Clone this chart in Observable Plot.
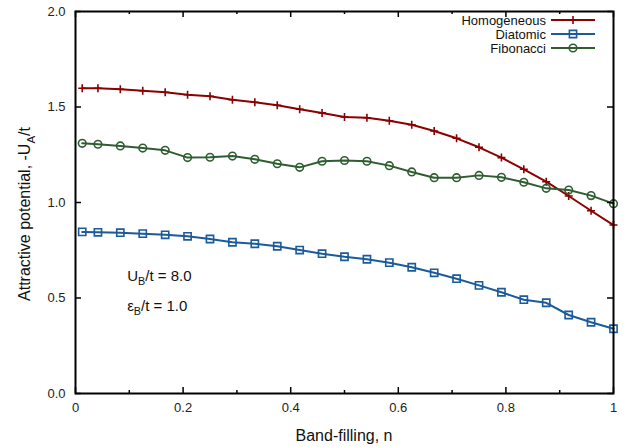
<!DOCTYPE html>
<html><head><meta charset="utf-8">
<script src="https://cdn.jsdelivr.net/npm/d3@7"></script>
<script src="https://cdn.jsdelivr.net/npm/@observablehq/plot@0.6"></script>
<style>
body{margin:0;background:#fff}
#chart svg{font-family:"Liberation Sans",Arial,sans-serif;background:#fff}
</style>
</head><body><div id="chart"></div>
<script>
// ---- data ----
const filling = [0.0125, 0.0417, 0.0833, 0.125, 0.1667, 0.2083, 0.25, 0.2917, 0.3333, 0.375, 0.4167, 0.4583, 0.5,
  0.5417, 0.5833, 0.625, 0.6667, 0.7083, 0.75, 0.7917, 0.8333, 0.875, 0.9167, 0.9583, 1.0];
const homogeneous = [1.598, 1.598, 1.593, 1.585, 1.577, 1.564, 1.556, 1.538, 1.525, 1.509, 1.488, 1.469, 1.448,
  1.444, 1.428, 1.407, 1.374, 1.336, 1.289, 1.235, 1.174, 1.109, 1.034, 0.957, 0.882];
const diatomic = [0.846, 0.844, 0.842, 0.837, 0.831, 0.823, 0.809, 0.792, 0.784, 0.771, 0.751, 0.732, 0.716,
  0.703, 0.685, 0.661, 0.632, 0.601, 0.566, 0.530, 0.491, 0.475, 0.411, 0.373, 0.339];
const fibonacci = [1.310, 1.305, 1.296, 1.285, 1.273, 1.235, 1.237, 1.243, 1.226, 1.203, 1.184, 1.216, 1.220,
  1.216, 1.193, 1.160, 1.130, 1.130, 1.142, 1.132, 1.106, 1.074, 1.065, 1.036, 0.994];
const seriesNames = ["Homogeneous", "Diatomic", "Fibonacci"];
const seriesColors = ["#8b0000", "#1b5a9b", "#2f5d31"];
const xMajorTicks = [0, 0.2, 0.4, 0.6, 0.8, 1];
const xMinorTicks = [0.1, 0.3, 0.5, 0.7, 0.9];
const xTickLabels = ["0", "0.2", "0.4", "0.6", "0.8", "1"];
const yTicks = [0, 0.5, 1, 1.5, 2];
const yTickLabels = ["0.0", "0.5", "1.0", "1.5", "2.0"];
const annotations = [
  {n: 0.097, v: 0.615, parts: [["U"], ["B", true], ["/t = 8.0"]]},
  {n: 0.097, v: 0.458, parts: [["ε"], ["B", true], ["/t = 1.0"]]}
];

// ---- build table ----
const valuesBySeries = [homogeneous, diatomic, fibonacci];
const rows = [];
seriesNames.forEach((s, i) => filling.forEach((n, j) => rows.push({series: s, n, v: valuesBySeries[i][j]})));

const W = 627, H = 447, mL = 75, mR = 14, mT = 11, mB = 54;
const pw = W - mL - mR, ph = H - mT - mB;

const plusSym = {draw(ctx, size) { const r = Math.sqrt(size / Math.PI); ctx.moveTo(-r, 0); ctx.lineTo(r, 0); ctx.moveTo(0, -r); ctx.lineTo(0, r); }};
const squareSym = {draw(ctx, size) { const r = Math.sqrt(size / Math.PI); ctx.rect(-r, -r, 2 * r, 2 * r); }};
const circleSym = {draw(ctx, size) { const r = Math.sqrt(size / Math.PI); ctx.moveTo(r, 0); ctx.arc(0, 0, r, 0, 2 * Math.PI); }};
const syms = [plusSym, squareSym, circleSym];
const symR = [4, 3.6, 3.8];

const marks = [];
seriesNames.forEach((s, i) => {
  const d = rows.filter(r => r.series === s);
  marks.push(Plot.line(d, {x: "n", y: "v", stroke: seriesColors[i], strokeWidth: 2}));
  marks.push(Plot.dot(d, {x: "n", y: "v", stroke: seriesColors[i], fill: "none", strokeWidth: 1.6, symbol: () => syms[i], r: symR[i]}));
});

const plot = Plot.plot({
  width: W, height: H,
  marginLeft: mL, marginRight: mR, marginTop: mT, marginBottom: mB,
  style: {fontFamily: '"Liberation Sans", Arial, sans-serif', background: "#fff"},
  x: {domain: [0, 1]},
  y: {domain: [0, 2]},
  symbol: {type: "identity"},
  marks: [
    Plot.axisX(xMajorTicks, {tickSize: 0, tickPadding: 9, fontSize: 13, fill: "#222", label: null,
      tickFormat: (d, i) => xTickLabels[i]}),
    Plot.axisY(yTicks, {tickSize: 0, tickPadding: 10, fontSize: 13, fill: "#222", label: null,
      tickFormat: (d, i) => yTickLabels[i]}),
    ...marks,
    // inward ticks
    Plot.ruleY(yTicks, {y: d => d, insetRight: pw - 6, stroke: "black", strokeWidth: 1.5}),
    Plot.ruleY(yTicks, {y: d => d, insetLeft: pw - 6, stroke: "black", strokeWidth: 1.5}),
    Plot.ruleX(xMajorTicks, {x: d => d, insetTop: ph - 6, stroke: "black", strokeWidth: 1.5}),
    Plot.ruleX(xMajorTicks, {x: d => d, insetBottom: ph - 6, stroke: "black", strokeWidth: 1.5}),
    Plot.ruleX(xMinorTicks, {x: d => d, insetTop: ph - 3, stroke: "black", strokeWidth: 1.5}),
    Plot.ruleX(xMinorTicks, {x: d => d, insetBottom: ph - 3, stroke: "black", strokeWidth: 1.5}),
    Plot.frame({stroke: "black", strokeWidth: 2})
  ]
});
document.getElementById("chart").appendChild(plot);

const svg = d3.select(plot);
const xs = d3.scaleLinear([0, 1], [mL, W - mR]);
const ys = d3.scaleLinear([0, 2], [H - mB, mT]);

function richText(g, x, y, parts, size, attrs = {}) {
  const t = g.append("text").attr("x", x).attr("y", y).attr("font-size", size).attr("fill", "#111").attr("text-anchor", "start");
  Object.entries(attrs).forEach(([k, v]) => t.attr(k, v));
  let shifted = false;
  parts.forEach(([txt, sub]) => {
    const ts = t.append("tspan").text(txt);
    if (sub && !shifted) { ts.attr("dy", size * 0.3).attr("font-size", size * 0.72); shifted = true; }
    else if (!sub && shifted) { ts.attr("dy", -size * 0.3); shifted = false; }
  });
  return t;
}

const overlay = svg.append("g");
// axis titles
richText(overlay, mL + pw / 2, 441, [["Band-filling, n"]], 16, {"text-anchor": "middle"});
richText(overlay, 0, 0, [["Attractive potential, -U"], ["A", true], ["/t"]], 16,
  {"text-anchor": "middle", transform: `translate(30,${mT + ph / 2 + 12}) rotate(-90)`});
// annotations
annotations.forEach(a => richText(overlay, xs(a.n), ys(a.v) + 5, a.parts, 15));

// legend
const legY = [20, 34, 48];
seriesNames.forEach((s, i) => {
  const g = overlay.append("g");
  g.append("text").attr("x", 546).attr("y", legY[i] + 4.5).attr("text-anchor", "end").attr("font-size", 13).attr("fill", "#111").text(s);
  g.append("line").attr("x1", 551).attr("x2", 595).attr("y1", legY[i]).attr("y2", legY[i]).attr("stroke", seriesColors[i]).attr("stroke-width", 2);
  const p = d3.path(); syms[i].draw(p, Math.PI * symR[i] * symR[i]);
  g.append("path").attr("d", p.toString()).attr("transform", `translate(573,${legY[i]})`).attr("fill", "none").attr("stroke", seriesColors[i]).attr("stroke-width", 1.6);
});
</script>
</body></html>
